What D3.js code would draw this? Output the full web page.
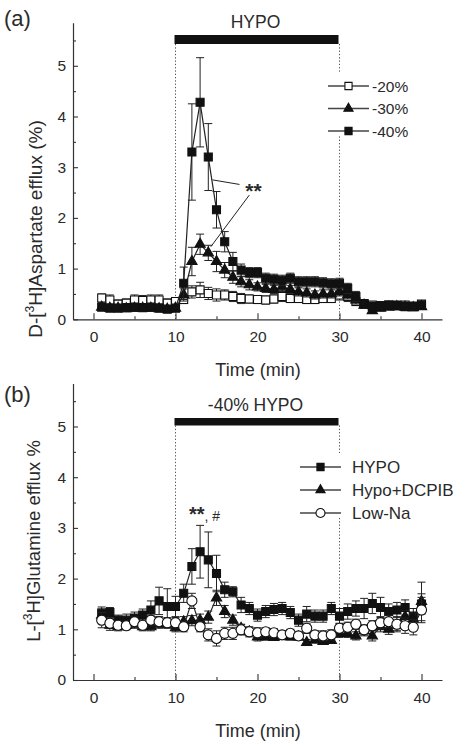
<!DOCTYPE html>
<html><head><meta charset="utf-8">
<script src="https://cdn.jsdelivr.net/npm/d3@7"></script>
<style>
body{margin:0;background:#fff}
svg{display:block}
text{font-family:"Liberation Sans",Arial,Helvetica,sans-serif;fill:#2a2a2a}
</style>
</head><body>
<svg id="c" width="466" height="748"></svg>
<script>
// ---------- data ----------
const time = [1,2,3,4,5,6,7,8,9,10,11,12,13,14,15,16,17,18,19,20,21,22,23,24,25,26,27,28,29,30,31,32,33,34,35,36,37,38,39,40];
const xTicks = [0,10,20,30,40];
const xMinorTicks = [5,15,25,35];
const yTicks = [0,1,2,3,4,5];
const yMinorTicks = [0.5,1.5,2.5,3.5,4.5,5.5];

// Panel (a): D-[3H]Aspartate efflux (%)
const legendA = ["-20%","-30%","-40%"];
const a20 = [0.42,0.38,0.30,0.32,0.38,0.37,0.38,0.38,0.32,0.35, 0.39,0.54,0.58,0.51,0.48,0.48,0.45,0.41,0.40,0.39, 0.38,0.40,0.45,0.41,0.41,0.39,0.39,0.41,0.41,0.48, 0.45,0.35,0.30,0.28,0.27,0.28,0.27,0.28,0.26,0.30];
const a20Err = [0.08,0.1,0.08,0.08,0.1,0.1,0.1,0.1,0.08,0.08, 0.08,0.12,0.15,0.12,0.12,0.1,0.1,0.1,0.08,0.08, 0.08,0.08,0.1,0.08,0.08,0.08,0.08,0.08,0.08,0.1, 0.1,0.08,0.06,0.06,0.06,0.06,0.06,0.06,0.06,0.06];
const a30 = [0.24,0.22,0.22,0.21,0.22,0.22,0.22,0.21,0.20,0.22, 0.48,1.14,1.48,1.31,1.14,0.97,0.83,0.74,0.68,0.64, 0.61,0.59,0.64,0.59,0.54,0.52,0.48,0.50,0.50,0.54, 0.48,0.38,0.28,0.17,0.22,0.24,0.25,0.24,0.23,0.25];
const a30Err = [0.06,0.05,0.05,0.05,0.05,0.05,0.05,0.05,0.05,0.05, 0.12,0.28,0.2,0.15,0.2,0.15,0.12,0.1,0.1,0.08, 0.08,0.08,0.08,0.08,0.08,0.08,0.08,0.08,0.08,0.08, 0.08,0.08,0.06,0.05,0.05,0.05,0.05,0.05,0.05,0.05];
const a40 = [0.24,0.22,0.22,0.23,0.24,0.23,0.24,0.22,0.20,0.22, 0.71,3.30,4.28,3.20,2.16,1.53,1.14,0.97,0.92,0.92, 0.81,0.79,0.77,0.81,0.74,0.74,0.74,0.72,0.70,0.71, 0.61,0.45,0.31,0.25,0.25,0.28,0.28,0.25,0.25,0.28];
const a40Err = [0.06,0.05,0.05,0.05,0.05,0.05,0.05,0.05,0.05,0.05, 0.32,0.95,0.88,0.66,0.36,0.2,0.18,0.12,0.1,0.1, 0.1,0.1,0.1,0.1,0.1,0.1,0.1,0.1,0.1,0.1, 0.1,0.1,0.08,0.06,0.06,0.06,0.06,0.06,0.06,0.06];

// Panel (b): L-[3H]Glutamine efflux %
const legendB = ["HYPO","Hypo+DCPIB","Low-Na"];
const bHypo = [1.32,1.33,1.18,1.18,1.22,1.28,1.38,1.56,1.45,1.45, 1.71,2.24,2.53,2.37,2.10,1.78,1.74,1.48,1.41,1.28, 1.35,1.39,1.41,1.33,1.18,1.30,1.26,1.26,1.41,1.26, 1.35,1.41,1.41,1.51,1.43,1.35,1.38,1.43,1.26,1.50];
const bHypoErr = [0.12,0.1,0.1,0.12,0.12,0.12,0.18,0.27,0.35,0.2, 0.18,0.35,0.52,0.55,0.36,0.15,0.1,0.15,0.12,0.12, 0.12,0.12,0.12,0.12,0.12,0.15,0.12,0.12,0.12,0.15, 0.15,0.15,0.2,0.2,0.2,0.15,0.15,0.15,0.15,0.2];
const bDcpib = [1.28,1.08,1.05,1.08,1.10,1.05,1.05,1.10,1.10,1.03, 1.15,1.17,1.18,1.24,1.62,1.35,1.18,1.02,0.95,0.85, 0.85,0.84,0.86,0.85,0.85,0.74,0.79,0.76,0.78,0.92, 0.92,0.87,0.97,0.87,1.05,1.00,1.08,1.25,1.20,1.55];
const bDcpibErr = [0.12,0.1,0.08,0.08,0.08,0.08,0.08,0.08,0.08,0.08, 0.1,0.1,0.12,0.12,0.15,0.12,0.1,0.08,0.08,0.08, 0.06,0.06,0.06,0.06,0.06,0.06,0.06,0.06,0.06,0.08, 0.08,0.08,0.1,0.1,0.1,0.1,0.1,0.12,0.12,0.38];
const bLowNa = [1.18,1.12,1.08,1.07,1.15,1.08,1.18,1.15,1.13,1.13, 1.05,1.56,1.05,0.89,0.82,0.92,0.92,0.99,0.95,0.93, 0.95,0.93,0.89,0.92,0.87,1.02,0.89,0.87,0.89,1.02, 1.04,1.10,0.99,1.07,1.13,1.15,1.10,1.07,1.04,1.38];
const bLowNaErr = [0.15,0.1,0.08,0.08,0.1,0.08,0.1,0.1,0.1,0.1, 0.1,0.15,0.1,0.12,0.15,0.12,0.12,0.1,0.1,0.1, 0.08,0.08,0.08,0.08,0.08,0.1,0.08,0.1,0.1,0.1, 0.1,0.1,0.1,0.1,0.12,0.12,0.15,0.15,0.15,0.25];

// ---------- drawing ----------
const svg = d3.select("#c");
const x = d3.scaleLinear().domain([-2.5, 42.5]).range([73, 442]);

function symbolPath(kind, big){
  const s = big ? 1 : 0.8;
  if (kind === "tri") return d3.symbol(d3.symbolTriangle, 46 * s)();
  if (kind === "circ") return d3.symbol(d3.symbolCircle, 80 * s)();
  return d3.symbol(d3.symbolSquare, 64 * s)();
}
function styleMarker(sel, kind){
  const open = kind === "sqOpen" || kind === "circ";
  sel.attr("fill", open ? "#fff" : "#111").attr("stroke", "#111").attr("stroke-width", 1.1);
}

function panel(cfg){
  const y = d3.scaleLinear().domain([0, 5.85]).range([cfg.y0, cfg.y0 - 296.6]);
  const g = svg.append("g");

  // dotted lines at 10 and 30 min
  [10, 30].forEach(t => g.append("line")
    .attr("x1", x(t)).attr("x2", x(t)).attr("y1", cfg.barY + cfg.barH).attr("y2", cfg.y0)
    .attr("stroke", "#555").attr("stroke-width", 1).attr("stroke-dasharray", "1.3,2"));

  // treatment bar
  g.append("rect").attr("x", x(10) - 1).attr("width", x(30) - x(10)).attr("y", cfg.barY)
    .attr("height", cfg.barH).attr("fill", "#111");
  g.append("text").attr("x", (x(10) + x(30)) / 2 - 2).attr("y", cfg.barY - 7)
    .attr("text-anchor", "middle").attr("font-size", 17.5).text(cfg.barLabel);

  // axes
  g.append("g").attr("transform", `translate(0,${cfg.y0})`)
    .call(d3.axisBottom(x).tickValues(xTicks).tickFormat(d => d).tickSizeInner(-6).tickSizeOuter(0).tickPadding(12));
  g.append("g").attr("transform", `translate(0,${cfg.y0})`)
    .call(d3.axisBottom(x).tickValues(xMinorTicks).tickSizeInner(-3).tickSizeOuter(0).tickFormat(""))
    .select(".domain").remove();
  g.append("g").attr("transform", `translate(73,0)`)
    .call(d3.axisLeft(y).tickValues(yTicks).tickFormat(d => d).tickSizeInner(-5).tickSizeOuter(0).tickPadding(7));
  g.append("g").attr("transform", `translate(73,0)`)
    .call(d3.axisLeft(y).tickValues(yMinorTicks).tickSizeInner(-3).tickSizeOuter(0).tickFormat(""))
    .select(".domain").remove();
  g.selectAll(".domain").attr("stroke", "#333").attr("stroke-width", 1.2);
  g.selectAll(".tick line").attr("stroke", "#333").attr("stroke-width", 1.1);
  g.selectAll(".tick text").attr("font-size", 15.5).attr("fill", "#2a2a2a")
    .attr("font-family", '"Liberation Sans",Arial,sans-serif');

  // axis titles
  g.append("text").attr("x", 258).attr("y", cfg.y0 + 57).attr("text-anchor", "middle")
    .attr("font-size", 18).text("Time (min)");
  const yt = g.append("text").attr("transform", `translate(${cfg.ylabX},${cfg.ylabY}) rotate(-90)`)
    .attr("text-anchor", "middle").attr("font-size", cfg.ylabFs);
  yt.append("tspan").text(cfg.ylab[0]);
  yt.append("tspan").attr("dy", -8).attr("font-size", 12).text("3");
  yt.append("tspan").attr("dy", 8).text(cfg.ylab[1]);

  // panel label
  g.append("text").attr("x", 4).attr("y", cfg.labY).attr("font-size", 22).text(cfg.label);

  // legend background + entries
  g.append("rect").attr("x", cfg.leg.x - 6).attr("y", cfg.leg.y - 14).attr("width", cfg.leg.w)
    .attr("height", cfg.leg.h).attr("fill", "#fff");
  cfg.series.forEach((s, i) => {
    const cy = cfg.leg.y + i * cfg.leg.dy;
    g.append("line").attr("x1", cfg.leg.x).attr("x2", cfg.leg.x + 41).attr("y1", cy).attr("y2", cy)
      .attr("stroke", "#444").attr("stroke-width", 1.3);
    g.append("path").attr("d", symbolPath(s.kind, false))
      .attr("transform", `translate(${cfg.leg.x + 20.5},${cy})`).call(styleMarker, s.kind);
    g.append("text").attr("x", cfg.leg.x + cfg.leg.tx).attr("y", cy + cfg.leg.fs * 0.36)
      .attr("font-size", cfg.leg.fs).text(s.name);
  });

  // series
  cfg.series.forEach(s => {
    const eg = g.append("g").attr("stroke", "#222").attr("stroke-width", 1);
    time.forEach((t, i) => {
      const cx = x(t), hi = y(s.v[i] + s.e[i]), lo = y(s.v[i] - s.e[i]);
      eg.append("line").attr("x1", cx).attr("x2", cx).attr("y1", hi).attr("y2", lo);
      eg.append("line").attr("x1", cx - 4).attr("x2", cx + 4).attr("y1", hi).attr("y2", hi);
      eg.append("line").attr("x1", cx - 4).attr("x2", cx + 4).attr("y1", lo).attr("y2", lo);
    });
    g.append("path").datum(time.map((t, i) => [t, s.v[i]]))
      .attr("d", d3.line().x(d => x(d[0])).y(d => y(d[1])))
      .attr("fill", "none").attr("stroke", "#222").attr("stroke-width", 1.2);
    g.append("g").selectAll("path").data(time.map((t, i) => [t, s.v[i]])).join("path")
      .attr("d", symbolPath(s.kind, true))
      .attr("transform", d => `translate(${x(d[0])},${y(d[1])})`).call(styleMarker, s.kind);
  });

  return {g, y};
}

// Panel (a)
const pa = panel({
  y0: 319.3, barY: 35, barH: 9, barLabel: "HYPO", label: "(a)", labY: 26,
  ylab: ["D-[", "H]Aspartate efflux (%)"], ylabX: 42, ylabY: 229, ylabFs: 19,
  leg: {x: 328, y: 86, dy: 22.5, w: 96, h: 64, tx: 44, fs: 15.5},
  series: [
    {name: legendA[0], kind: "sqOpen", v: a20, e: a20Err},
    {name: legendA[1], kind: "tri", v: a30, e: a30Err},
    {name: legendA[2], kind: "sqFill", v: a40, e: a40Err}
  ]
});
// ** annotation (a)
pa.g.append("line").attr("x1", x(14.5)).attr("y1", pa.y(2.75)).attr("x2", x(17.8)).attr("y2", pa.y(2.66))
  .attr("stroke", "#222").attr("stroke-width", 1);
pa.g.append("line").attr("x1", x(14.3)).attr("y1", pa.y(1.43)).attr("x2", x(19.0)).attr("y2", pa.y(2.45))
  .attr("stroke", "#222").attr("stroke-width", 1);
pa.g.append("text").attr("x", x(19.5)).attr("y", pa.y(2.6) + 11).attr("text-anchor", "middle")
  .attr("font-size", 21).attr("font-weight", "bold").text("**");

// Panel (b)
const pb = panel({
  y0: 680, barY: 418, barH: 7.5, barLabel: "-40% HYPO", label: "(b)", labY: 402,
  ylab: ["L-[", "H]Glutamine efflux %"], ylabX: 40, ylabY: 541, ylabFs: 18.5,
  leg: {x: 300, y: 467, dy: 23, w: 166, h: 63, tx: 52, fs: 17},
  series: [
    {name: legendB[0], kind: "sqFill", v: bHypo, e: bHypoErr},
    {name: legendB[1], kind: "tri", v: bDcpib, e: bDcpibErr},
    {name: legendB[2], kind: "circ", v: bLowNa, e: bLowNaErr}
  ]
});
const ann = pb.g.append("text").attr("x", 189).attr("y", 521);
ann.append("tspan").attr("font-size", 20).attr("font-weight", "bold").text("**");
ann.append("tspan").attr("font-size", 14).text(", #");
</script>
</body></html>
